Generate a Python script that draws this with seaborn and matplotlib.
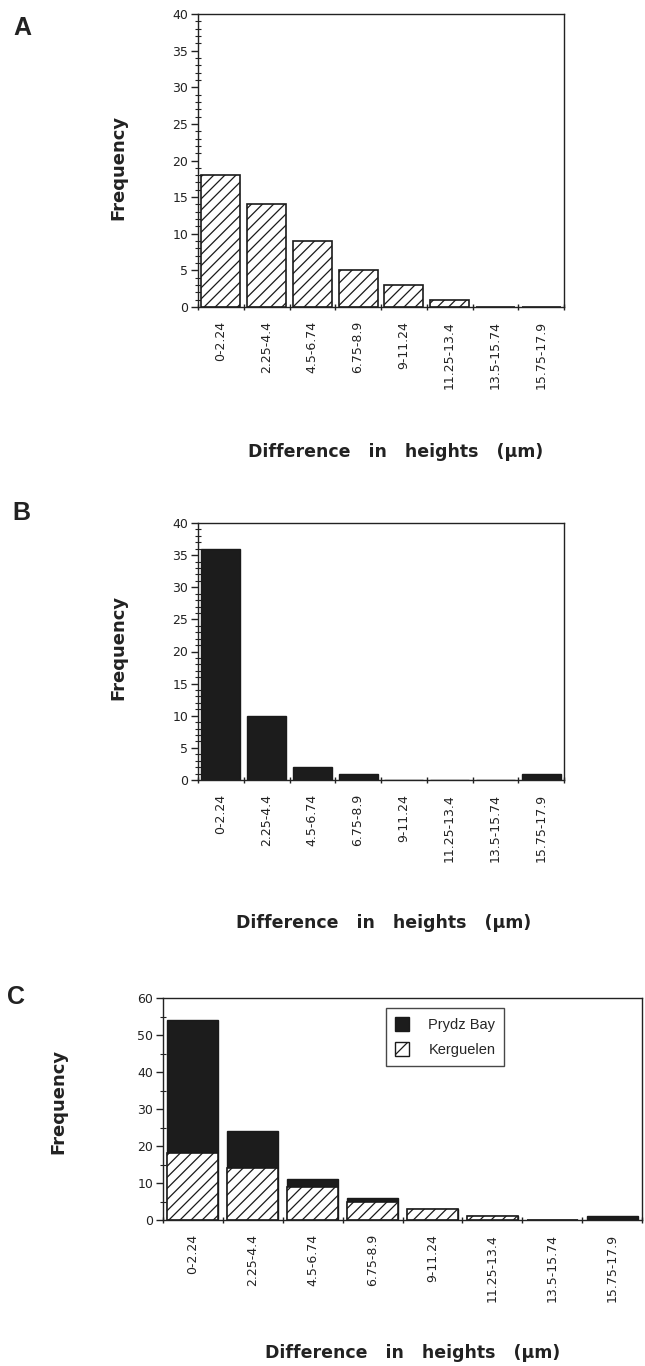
import numpy as np
import pandas as pd
import matplotlib
matplotlib.use("Agg")
import matplotlib.pyplot as plt
from matplotlib.patches import Patch
from matplotlib.ticker import MultipleLocator, FixedLocator, NullFormatter
import seaborn as sns

categories = ["0-2.24", "2.25-4.4", "4.5-6.74", "6.75-8.9", "9-11.24",
              "11.25-13.4", "13.5-15.74", "15.75-17.9"]
kerguelen = [18, 14, 9, 5, 3, 1, 0, 0]
prydz_bay = [36, 10, 2, 1, 0, 0, 0, 1]

sns.set_theme(style="ticks")
plt.rcParams["font.family"] = ["DejaVu Sans"]
plt.rcParams["hatch.linewidth"] = 0.9
plt.rcParams["axes.linewidth"] = 1.0

W, H = 645, 1366
fig = plt.figure(figsize=(W / 100, H / 100), dpi=100)
fig.patch.set_facecolor("white")


def ax_rect(left, top, right, bottom):
    return [left / W, 1 - bottom / H, (right - left) / W, (bottom - top) / H]


DARK = "#1c1c1c"
INK = "#222222"
HATCH = "///"


def style_axes(ax, ymax, major, minor):
    ax.set_xlim(-0.5, len(categories) - 0.5)
    ax.set_ylim(0, ymax)
    ax.set_facecolor("white")
    for s in ax.spines.values():
        s.set_visible(True)
        s.set_color(INK)
        s.set_linewidth(1.0)
    ax.yaxis.set_major_locator(MultipleLocator(major))
    ax.yaxis.set_minor_locator(MultipleLocator(minor))
    ax.tick_params(axis="y", which="major", direction="out", length=5,
                   width=1, labelsize=9, pad=2, colors=INK)
    ax.tick_params(axis="y", which="minor", direction="inout", length=4,
                   width=0.8, colors=INK)
    n = len(categories)
    ax.xaxis.set_major_locator(FixedLocator(np.arange(-0.5, n, 1.0)))
    ax.xaxis.set_major_formatter(NullFormatter())
    ax.set_xticks(np.arange(n), minor=True)
    ax.set_xticklabels(categories, minor=True, rotation=90,
                       fontsize=9, color=INK)
    ax.tick_params(axis="x", which="major", direction="inout", length=5,
                   width=1, colors=INK)
    ax.tick_params(axis="x", which="minor", length=0, pad=10)
    ax.set_xlabel("")
    ax.set_ylabel("")


df = pd.DataFrame({"bin": categories, "Kerguelen": kerguelen,
                   "Prydz Bay": prydz_bay})
df["total"] = df["Kerguelen"] + df["Prydz Bay"]

# ---------------- Panel A ----------------
axA = fig.add_axes(ax_rect(198, 14, 564, 307))
sns.barplot(data=df, x="bin", y="Kerguelen", ax=axA, color="white",
            edgecolor="#1a1a1a", linewidth=1.2, hatch=HATCH, width=0.85,
            saturation=1)
style_axes(axA, 40, 5, 1)

# ---------------- Panel B ----------------
axB = fig.add_axes(ax_rect(198, 523, 564, 780))
sns.barplot(data=df, x="bin", y="Prydz Bay", ax=axB, color=DARK,
            edgecolor="#1a1a1a", linewidth=1.0, width=0.85, saturation=1)
style_axes(axB, 40, 5, 1)

# ---------------- Panel C ----------------
axC = fig.add_axes(ax_rect(163, 998, 642, 1220))
sns.barplot(data=df, x="bin", y="total", ax=axC, color=DARK,
            edgecolor="#1a1a1a", linewidth=1.0, width=0.85, saturation=1)
sns.barplot(data=df, x="bin", y="Kerguelen", ax=axC, color="white",
            edgecolor="#1a1a1a", linewidth=1.2, hatch=HATCH, width=0.85,
            saturation=1)
style_axes(axC, 60, 10, 5)

handles = [Patch(facecolor=DARK, edgecolor="#1a1a1a", label="Prydz Bay"),
           Patch(facecolor="white", edgecolor="#1a1a1a", hatch="//",
                 label="Kerguelen")]
leg = axC.legend(handles=handles, loc="upper left",
                 bbox_to_anchor=((386 - 163) / 479, 1 - (1008 - 998) / 222),
                 frameon=True, fancybox=False, edgecolor="#1a1a1a",
                 prop={"family": ["Liberation Sans"], "size": 10.5},
                 handlelength=1.0, handleheight=1.1,
                 borderpad=0.6, labelspacing=0.7, handletextpad=1.3,
                 borderaxespad=0)
leg.get_frame().set_linewidth(1.0)

# ---------------- Texts ----------------
def fy(y):
    return 1 - y / H


def fx(x):
    return x / W


xlabel = "Difference   in   heights   (\u03bcm)"
for (cx, cy) in [(396, 452), (384, 923), (413, 1353)]:
    fig.text(fx(cx), fy(cy), xlabel, ha="center", va="center",
             fontsize=12.5, fontweight="bold", color=INK)

for (cx, cy) in [(118, 167), (118, 647), (58, 1101)]:
    fig.text(fx(cx), fy(cy), "Frequency", ha="center", va="center",
             rotation=90, fontsize=13, fontweight="bold", color=INK)

for lab, (cx, cy) in zip(["A", "B", "C"], [(22, 28), (21, 513), (16, 997)]):
    fig.text(fx(cx), fy(cy), lab, ha="center", va="center",
             fontsize=18, fontweight="bold", color=INK,
             family=["Liberation Sans"])

fig.savefig("out.png", dpi=100, facecolor="white")
